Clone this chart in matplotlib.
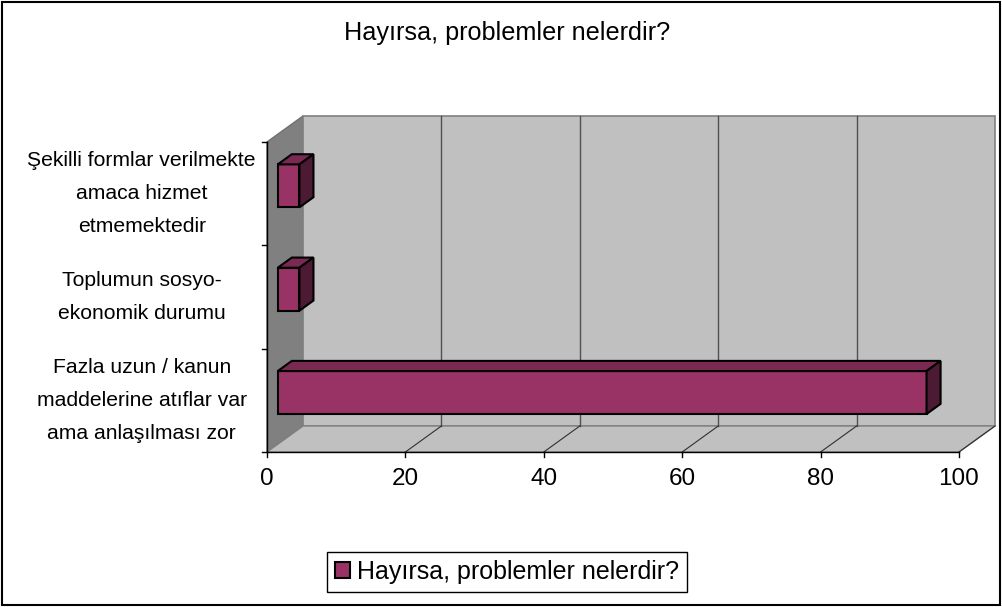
import matplotlib
matplotlib.use("Agg")
import matplotlib.pyplot as plt
from matplotlib.patches import Polygon, Rectangle, Patch

plt.rcParams['font.family'] = ['Liberation Sans', 'DejaVu Sans']

title = "Hayırsa, problemler nelerdir?"
categories = ["Fazla uzun / kanun\nmaddelerine atıflar var\nama anlaşılması zor",
              "Toplumun sosyo-\nekonomik durumu",
              "Şekilli formlar verilmekte\namaca hizmet\netmemektedir"]
values = [93.75, 3.125, 3.125]
xticks = [0, 20, 40, 60, 80, 100]

front = '#993366'
top_c = '#7a2952'
side_c = '#4d1a33'

fig = plt.figure(figsize=(10.03, 6.07), dpi=100)
W, H = 1003, 607
# axes: data x 0..100 -> px 267..959, y 0..3 -> px 452..142 (from top)
ax = fig.add_axes([267 / W, (H - 452) / H, 692 / W, 310 / H])
ax.set_xlim(0, 100)
ax.set_ylim(0, 3)
ax.axis('off')

DX = 36 / 6.92      # depth offset in value units
DY = 26 / 103.33    # depth offset in category units
n = len(categories)

def poly(pts, fc, ec='none', lw=1.0, z=1):
    ax.add_patch(Polygon(pts, closed=True, facecolor=fc, edgecolor=ec,
                         linewidth=lw, clip_on=False, zorder=z))

# walls
poly([(0, 0), (DX, DY), (DX, n + DY), (0, n)], '#808080', '#707070', 1, 1)
poly([(DX, DY), (100 + DX, DY), (100 + DX, n + DY), (DX, n + DY)], '#c0c0c0', '#808080', 1.2, 1)
poly([(0, 0), (100, 0), (100 + DX, DY), (DX, DY)], '#c0c0c0', '#808080', 1, 1)

# gridlines on back wall and floor
for t in xticks[1:-1]:
    ax.plot([t + DX, t + DX], [DY, n + DY], color='#505050', lw=1, clip_on=False, zorder=2)
for t in xticks[1:]:
    ax.plot([t, t + DX], [0, DY], color='#303030', lw=0.8, clip_on=False, zorder=2)

# axes lines and ticks
ax.plot([0, 100], [0, 0], color='black', lw=1, clip_on=False, zorder=3)
ax.plot([0, 0], [0, n], color='black', lw=1, clip_on=False, zorder=3)
for t in xticks:
    ax.plot([t, t], [0, -0.05], color='black', lw=1, clip_on=False, zorder=3)
    ax.text(t, -0.265, str(t), ha='center', va='center', fontsize=17.5)
for k in range(n + 1):
    ax.plot([0, -0.7], [k, k], color='black', lw=1, clip_on=False, zorder=3)

# bars
f0, f1 = 0.30, 0.69
bh = 0.416
for i, v in enumerate(values):
    x0, y0 = f0 * DX, i + 0.5 - bh / 2 + f0 * DY
    x1, y1 = x0 + v, y0 + bh
    ddx, ddy = (f1 - f0) * DX, (f1 - f0) * DY
    poly([(x0, y0), (x1, y0), (x1, y1), (x0, y1)], front, 'black', 1.5, 5)
    poly([(x0, y1), (x1, y1), (x1 + ddx, y1 + ddy), (x0 + ddx, y1 + ddy)], top_c, 'black', 1.5, 5)
    poly([(x1, y0), (x1 + ddx, y0 + ddy), (x1 + ddx, y1 + ddy), (x1, y1)], side_c, 'black', 1.5, 5)

# category labels
for i, c in enumerate(categories):
    ax.text(-18.1, i + 0.5, c, ha='center', va='center', fontsize=15.2,
            linespacing=1.95, clip_on=False)

fig.text(507 / W, 1 - 33 / H, title, ha='center', va='center', fontsize=18.2)

leg = fig.legend(handles=[Patch(facecolor=front, edgecolor='black', linewidth=1.5, label=title)],
                 loc='center', bbox_to_anchor=(507 / W, 1 - 572 / H), fontsize=18,
                 fancybox=False, framealpha=1, edgecolor='black', handlelength=0.6,
                 handleheight=0.6, handletextpad=0.3, borderpad=0.32, borderaxespad=0)
leg.get_frame().set_linewidth(1)

fig.patches.append(Rectangle((0.002, 0.003), 0.995, 0.994, transform=fig.transFigure,
                             fill=False, edgecolor='black', linewidth=1.5))

fig.savefig('out.png', dpi=100)
